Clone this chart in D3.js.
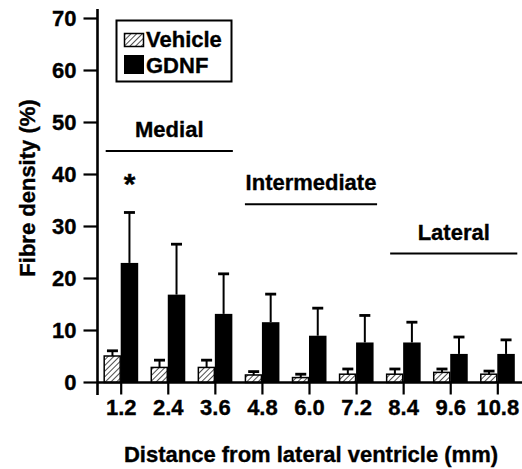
<!DOCTYPE html>
<html>
<head>
<meta charset="utf-8">
<script src="https://cdn.jsdelivr.net/npm/d3@7"></script>
<style>
  body { margin: 0; background: #fff; }
  svg { display: block; }
  text { font-family: "Liberation Sans", Arial, sans-serif; font-weight: bold; fill: #000;
         stroke: #000; stroke-width: 0.35px; }
</style>
</head>
<body>
<svg id="chart" width="522" height="469"></svg>
<script>
// distances from the lateral ventricle (mm)
const distances = ['1.2', '2.4', '3.6', '4.8', '6.0', '7.2', '8.4', '9.6', '10.8'];
// mean fibre density (%) and upper error (SEM)
const vehicle = [5.0, 2.8, 2.8, 1.35, 0.85, 1.5, 1.5, 1.85, 1.5];
const vehicleErr = [1.0, 1.4, 1.4, 0.65, 0.65, 1.0, 1.0, 0.65, 0.6];
const gdnf = [22.9, 16.8, 13.1, 11.5, 8.9, 7.6, 7.6, 5.4, 5.4];
const gdnfErr = [9.7, 9.7, 7.7, 5.4, 5.3, 5.2, 3.9, 3.25, 2.7];
const yTicks = [0, 10, 20, 30, 40, 50, 60, 70];
const regions = [
    { name: 'Medial', from: '1.2', to: '3.6', level: 44.4 },
    { name: 'Intermediate', from: '4.8', to: '7.2', level: 34.2 },
    { name: 'Lateral', from: '8.4', to: '10.8', level: 24.7 }
];

const svg = d3.select('#chart');
const x = d3.scalePoint().domain(distances).range([120.7, 497.3]);
const y = d3.scaleLinear().domain([0, 70]).range([382, 18]);
const barW = 16.5;
const axisX = 97.5, baseY = 382.5;
const fs = '22px';

// hatch pattern for vehicle
const defs = svg.append('defs');
defs.append('pattern')
    .attr('id', 'hatch')
    .attr('patternUnits', 'userSpaceOnUse')
    .attr('width', 4).attr('height', 4)
    .attr('patternTransform', 'rotate(45)')
  .append('line')
    .attr('x1', 0).attr('y1', 0).attr('x2', 0).attr('y2', 4)
    .attr('stroke', '#000').attr('stroke-width', 1.4);

const rows = distances.map((d, i) => ({
    d, v: vehicle[i], ve: vehicleErr[i], g: gdnf[i], ge: gdnfErr[i]
}));

// error bars (upper only)
function errorBar(g, cx, top, err) {
    g.append('line')
        .attr('x1', cx).attr('x2', cx)
        .attr('y1', y(top)).attr('y2', y(top + err))
        .attr('stroke', '#000').attr('stroke-width', 2);
    g.append('line')
        .attr('x1', cx - 5.5).attr('x2', cx + 5.5)
        .attr('y1', y(top + err)).attr('y2', y(top + err))
        .attr('stroke', '#000').attr('stroke-width', 2.8);
}

const groups = svg.append('g').selectAll('g')
    .data(rows)
    .join('g');

groups.each(function (r) {
    const g = d3.select(this);
    const cx = x(r.d);
    errorBar(g, cx - barW / 2, r.v, r.ve);
    errorBar(g, cx + barW / 2 + 0.5, r.g, r.ge);
    g.append('rect')
        .attr('x', cx - barW).attr('y', y(r.v))
        .attr('width', barW - 0.5).attr('height', baseY - y(r.v))
        .attr('fill', 'url(#hatch)')
        .attr('stroke', '#000').attr('stroke-width', 1.5);
    g.append('rect')
        .attr('x', cx).attr('y', y(r.g))
        .attr('width', barW + 1).attr('height', baseY - y(r.g))
        .attr('fill', '#000');
});

// y axis
const yAxis = svg.append('g')
    .attr('transform', `translate(${axisX},0)`)
    .call(d3.axisLeft(y).tickValues(yTicks).tickSize(14).tickPadding(7));
yAxis.select('.domain').remove();
yAxis.selectAll('.tick line').attr('stroke-width', 2.2);
yAxis.selectAll('.tick text').style('font-size', fs);
svg.append('line')
    .attr('x1', axisX).attr('x2', axisX)
    .attr('y1', 9).attr('y2', 395)
    .attr('stroke', '#000').attr('stroke-width', 2.6);

// x axis
const xAxis = svg.append('g')
    .attr('transform', `translate(0,${baseY})`)
    .call(d3.axisBottom(x).tickSize(12).tickPadding(5));
xAxis.select('.domain').remove();
xAxis.selectAll('.tick line').attr('stroke-width', 2.2);
xAxis.selectAll('.tick text').style('font-size', fs);
svg.append('line')
    .attr('x1', axisX).attr('x2', 522)
    .attr('y1', baseY).attr('y2', baseY)
    .attr('stroke', '#000').attr('stroke-width', 2.6);

// axis titles
svg.append('text')
    .attr('x', 311).attr('y', 462)
    .attr('text-anchor', 'middle')
    .style('font-size', fs)
    .text('Distance from lateral ventricle (mm)');
svg.append('text')
    .attr('transform', 'translate(34.5,188) rotate(-90)')
    .attr('text-anchor', 'middle')
    .style('font-size', fs)
    .text('Fibre density (%)');

// region labels
const lineOff = { Medial: [-15, 18], Intermediate: [-17, 21], Lateral: [-13, 20] };
regions.forEach(r => {
    const x0 = x(r.from) + lineOff[r.name][0];
    const x1 = x(r.to) + lineOff[r.name][1];
    svg.append('line')
        .attr('x1', x0).attr('x2', x1)
        .attr('y1', y(r.level)).attr('y2', y(r.level))
        .attr('stroke', '#000').attr('stroke-width', 2);
    svg.append('text')
        .attr('x', (x0 + x1) / 2).attr('y', y(r.level) - 14)
        .attr('text-anchor', 'middle')
        .style('font-size', fs)
        .text(r.name);
});

// significance star
svg.append('text')
    .attr('x', x('1.2') + 9).attr('y', 194)
    .attr('text-anchor', 'middle')
    .style('font-size', '30px')
    .text('*');

// legend
const legend = svg.append('g');
legend.append('rect')
    .attr('x', 116.5).attr('y', 20.5).attr('width', 115).attr('height', 61)
    .attr('fill', '#fff').attr('stroke', '#000').attr('stroke-width', 2);
legend.append('rect')
    .attr('x', 124.5).attr('y', 33.5).attr('width', 19).attr('height', 13)
    .attr('fill', 'url(#hatch)').attr('stroke', '#000').attr('stroke-width', 1.5);
legend.append('rect')
    .attr('x', 124).attr('y', 55).attr('width', 20).attr('height', 19)
    .attr('fill', '#000');
legend.append('text').attr('x', 146).attr('y', 47).style('font-size', fs).text('Vehicle');
legend.append('text').attr('x', 146).attr('y', 73).style('font-size', fs).text('GDNF');
</script>
</body>
</html>
